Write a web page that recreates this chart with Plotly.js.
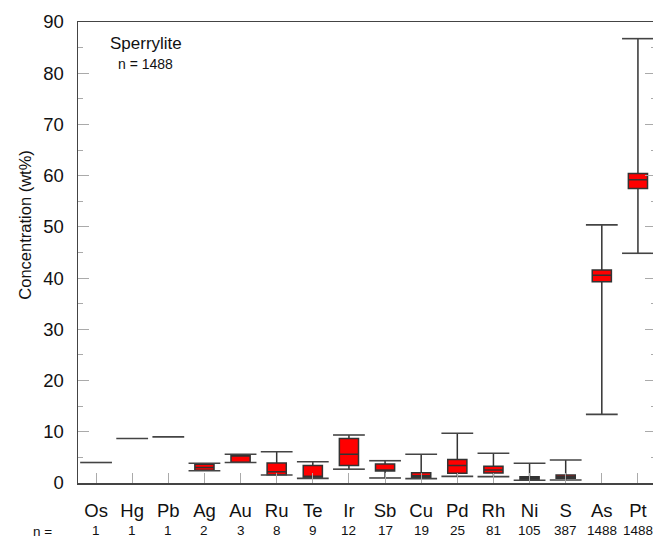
<!DOCTYPE html>
<html><head><meta charset="utf-8">
<script src="https://cdn.plot.ly/plotly-3.0.1.min.js"></script>
<style>html,body{margin:0;padding:0;overflow:hidden;background:#fff}</style>
</head><body><div id="chart" style="width:660px;height:539px"></div>
<script>
const elements = ['Os','Hg','Pb','Ag','Au','Ru','Te','Ir','Sb','Cu','Pd','Rh','Ni','S','As','Pt'];
const counts   = [1,1,1,2,3,8,9,12,17,19,25,81,105,387,1488,1488];
const minVals    = [4.0, 8.7, 9.0, 2.4, 4.0, 1.55, 0.9, 2.7, 0.98, 0.85, 1.3, 1.24, 0.53, 0.59, 13.4, 44.85];
const q1Vals     = [4.0, 8.7, 9.0, 2.5, 4.05, 1.6, 1.1, 3.4, 2.34, 1.1, 1.9, 1.95, 0.72, 0.92, 39.3, 57.5];
const medianVals = [4.0, 8.7, 9.0, 3.05, 5.4, 2.2, 1.2, 5.6, 2.54, 1.43, 3.4, 2.54, 1.0, 1.24, 40.55, 59.2];
const q3Vals     = [4.0, 8.7, 9.0, 3.65, 5.47, 3.9, 3.4, 8.7, 3.7, 2.0, 4.6, 3.25, 1.24, 1.56, 41.6, 60.4];
const maxVals    = [4.0, 8.7, 9.0, 3.85, 5.6, 6.1, 4.15, 9.37, 4.35, 5.6, 9.7, 5.8, 3.85, 4.5, 50.4, 86.75];

const idx = elements.map((_, i) => i);
const multi = idx.filter(i => counts[i] > 1);
const FONT = 'Liberation Sans, Arial, sans-serif';

const boxTrace = {
  type: 'box',
  x: multi,
  q1: multi.map(i => q1Vals[i]),
  median: multi.map(i => medianVals[i]),
  q3: multi.map(i => q3Vals[i]),
  lowerfence: multi.map(i => minVals[i]),
  upperfence: multi.map(i => maxVals[i]),
  width: 0.53,
  whiskerwidth: 0,
  boxpoints: false,
  fillcolor: '#ff0000',
  line: {color: '#333333', width: 1.5},
  showlegend: false,
  hoverinfo: 'skip'
};

const capX = [], capY = [];
const half = 0.44;
idx.forEach(i => {
  const ys = counts[i] > 1 ? [minVals[i], maxVals[i]] : [minVals[i]];
  ys.forEach(v => { capX.push(i - half, i + half, null); capY.push(v, v, null); });
});
const capTrace = {
  type: 'scatter', mode: 'lines', x: capX, y: capY,
  line: {color: '#444444', width: 1.6},
  showlegend: false, hoverinfo: 'skip'
};

const annotations = idx.map(i => ({
  x: i, y: -0.104, xref: 'x', yref: 'paper', text: String(counts[i]),
  showarrow: false, font: {family: FONT, size: 13.5, color: '#111'},
  xanchor: 'center', yanchor: 'middle'
}));
annotations.push({
  x: -0.062, y: -0.106, xref: 'paper', yref: 'paper', text: 'n =',
  showarrow: false, font: {family: FONT, size: 13.5, color: '#111'},
  xanchor: 'center', yanchor: 'middle'
});
annotations.push({
  x: 1.38, y: 85.9, xref: 'x', yref: 'y', text: 'Sperrylite',
  showarrow: false, font: {family: FONT, size: 17, color: '#111'},
  xanchor: 'center', yanchor: 'middle'
});
annotations.push({
  x: 1.38, y: 81.8, xref: 'x', yref: 'y', text: 'n = 1488',
  showarrow: false, font: {family: FONT, size: 14, color: '#111'},
  xanchor: 'center', yanchor: 'middle'
});
annotations.push({
  x: -0.092, y: 0.56, xref: 'paper', yref: 'paper', text: 'Concentration (wt%)',
  textangle: -90, showarrow: false, font: {family: FONT, size: 16.5, color: '#111'},
  xanchor: 'center', yanchor: 'middle'
});

const layout = {
  width: 660, height: 539,
  margin: {l: 78, r: 4, t: 22, b: 56},
  paper_bgcolor: '#ffffff', plot_bgcolor: '#ffffff',
  font: {family: FONT, size: 18, color: '#111'},
  xaxis: {
    range: [-0.5, 15.5], tickmode: 'array', tickvals: idx, ticktext: elements,
    ticks: 'inside', ticklen: 10, tickcolor: '#aaaaaa', tickwidth: 1,
    showline: true, linecolor: '#444444', linewidth: 1.5, mirror: true,
    showgrid: false, zeroline: false, ticklabelstandoff: 10,
    tickfont: {size: 18.5}
  },
  yaxis: {
    range: [0, 90], dtick: 10, tick0: 0,
    ticks: 'inside', ticklen: 11, tickcolor: '#aaaaaa', tickwidth: 1,
    minor: {dtick: 5, ticks: 'inside', ticklen: 5, tickcolor: '#aaaaaa'},
    showline: true, linecolor: '#444444', linewidth: 1.5, mirror: 'allticks',
    showgrid: false, zeroline: false, ticklabelstandoff: 9,
    tickfont: {size: 18.5}
  },
  annotations: annotations
};

Plotly.newPlot('chart', [boxTrace, capTrace], layout, {displayModeBar: false, staticPlot: true});
</script>
</body></html>
